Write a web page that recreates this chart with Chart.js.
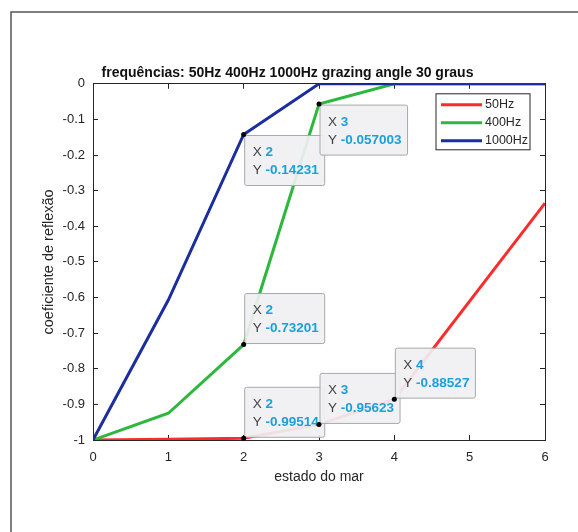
<!DOCTYPE html>
<html>
<head>
<meta charset="utf-8">
<script src="https://cdn.jsdelivr.net/npm/chart.js@4"></script>
<style>
  html, body { margin: 0; padding: 0; background: #fff; }
</style>
</head>
<body>
<canvas id="coefChart" width="578" height="532"></canvas>
<script>
// estado do mar on X, coeficiente de reflexão on Y
const seaStates = [0, 1, 2, 3, 4, 5, 6];
const coef50 = [-1, -0.998, -0.99514, -0.95623, -0.88527, -0.61, -0.335];
const coef400 = [-1, -0.925, -0.73201, -0.057003, 0, 0, 0];
const coef1000 = [-1, -0.607, -0.14231, 0, 0, 0, 0];
const seriesNames = ['50Hz', '400Hz', '1000Hz'];
const seriesColors = ['#ff2b2b', '#2bb83c', '#1c2d9e'];

const xTicks = [0, 1, 2, 3, 4, 5, 6];
const yTicks = [-1, -0.9, -0.8, -0.7, -0.6, -0.5, -0.4, -0.3, -0.2, -0.1, 0];

// data tips: dataset index, point index, box above the point?
const dataTips = [
    [2, 2, false],
    [1, 3, false],
    [1, 2, true],
    [0, 2, true],
    [0, 3, true],
    [0, 4, true]
];

const axisColor = '#262626';
const fontFamily = 'Liberation Sans, Arial, sans-serif';

function toPoints(values) {
    return values.map((v, i) => ({ x: seaStates[i], y: v }));
}

function useTicks(list) {
    return function (scale) {
        scale.ticks = list.map(v => ({ value: v }));
    };
}

function fmt(v) {
    return String(Math.round(v * 10) / 10);
}

// frame, data tips and legend box (MATLAB figure look)
const figureDecor = {
    id: 'figureDecor',
    beforeDraw(chart) {
        const ctx = chart.ctx;
        ctx.save();
        ctx.fillStyle = '#fff';
        ctx.fillRect(0, 0, chart.width, chart.height);
        ctx.strokeStyle = '#555';
        ctx.lineWidth = 1.5;
        ctx.beginPath();
        ctx.moveTo(11, chart.height);
        ctx.lineTo(11, 12);
        ctx.lineTo(chart.width, 12);
        ctx.stroke();
        ctx.restore();
    },
    afterDatasetsDraw(chart) {
        const ctx = chart.ctx;
        const xs = chart.scales.x, ys = chart.scales.y;
        const tipFont = '13.5px ' + fontFamily;
        const tipBold = 'bold 13.5px ' + fontFamily;
        ctx.save();
        dataTips.forEach(([ds, idx, above]) => {
            const xv = seaStates[idx];
            const yv = chart.data.datasets[ds].data[idx].y;
            const px = xs.getPixelForValue(xv);
            const py = ys.getPixelForValue(yv);
            const lines = [['X ', String(xv)], ['Y ', String(yv)]];
            let w = 0;
            lines.forEach(([a, b]) => {
                ctx.font = tipFont;
                let tw = ctx.measureText(a).width;
                ctx.font = tipBold;
                tw += ctx.measureText(b).width;
                w = Math.max(w, tw);
            });
            const bw = w + 14, bh = 50;
            const bx = px + 1;
            const by = above ? py - bh - 1 : py + 1;
            ctx.beginPath();
            ctx.roundRect(bx, by, bw, bh, 2);
            ctx.fillStyle = 'rgba(240,240,242,0.92)';
            ctx.fill();
            ctx.strokeStyle = '#a8a8a8';
            ctx.lineWidth = 1;
            ctx.stroke();
            ctx.textBaseline = 'middle';
            ctx.textAlign = 'left';
            lines.forEach(([a, b], i) => {
                const ty = by + 17 + i * 18;
                ctx.font = tipFont;
                ctx.fillStyle = '#404040';
                ctx.fillText(a, bx + 8, ty);
                const aw = ctx.measureText(a).width;
                ctx.font = tipBold;
                ctx.fillStyle = '#1aa0dc';
                ctx.fillText(b, bx + 8 + aw, ty);
            });
            ctx.beginPath();
            ctx.arc(px, py, 2.5, 0, Math.PI * 2);
            ctx.fillStyle = '#000';
            ctx.fill();
        });
        ctx.restore();
    },
    afterDraw(chart) {
        const ctx = chart.ctx;
        const area = chart.chartArea;
        const lw = 94, lh = 56;
        const lx = area.right - 15 - lw, ly = area.top + 10;
        ctx.save();
        ctx.fillStyle = '#fff';
        ctx.fillRect(lx, ly, lw, lh);
        ctx.strokeStyle = '#262626';
        ctx.lineWidth = 1;
        ctx.strokeRect(lx, ly, lw, lh);
        ctx.font = '12.5px ' + fontFamily;
        ctx.textBaseline = 'middle';
        seriesNames.forEach((name, i) => {
            const ry = ly + 11 + i * 18;
            ctx.strokeStyle = seriesColors[i];
            ctx.lineWidth = 3;
            ctx.beginPath();
            ctx.moveTo(lx + 5, ry);
            ctx.lineTo(lx + 46, ry);
            ctx.stroke();
            ctx.fillStyle = '#262626';
            ctx.fillText(name, lx + 49, ry);
        });
        ctx.restore();
    }
};

const allSeries = [coef50, coef400, coef1000];

const coefData = {
    datasets: allSeries.map((vals, i) => ({
        label: seriesNames[i],
        data: toPoints(vals),
        borderColor: seriesColors[i],
        backgroundColor: seriesColors[i],
        borderWidth: 3,
        pointRadius: 0,
        tension: 0,
        order: 3 - i
    }))
};

const innerGrid = {
    display: true,
    drawOnChartArea: false,
    drawTicks: true,
    tickLength: -5,
    color: axisColor,
    lineWidth: 1
};
const axisBorder = { display: true, color: axisColor, width: 1 };

const coefOptions = {
    responsive: false,
    animation: false,
    layout: { padding: { left: 30, right: 33, top: 65, bottom: 40 } },
    plugins: {
        legend: { display: false },
        tooltip: { enabled: false },
        title: {
            display: true,
            text: 'frequências: 50Hz 400Hz 1000Hz grazing angle 30 graus',
            color: '#111',
            font: { family: fontFamily, size: 14, weight: 'bold' },
            padding: { top: 0, bottom: 2 }
        }
    },
    scales: {
        x: {
            type: 'linear',
            min: 0, max: 6,
            afterBuildTicks: useTicks(xTicks),
            afterFit(s) { s.height = 52; },
            grid: innerGrid,
            border: axisBorder,
            ticks: { color: axisColor, padding: 15, font: { family: fontFamily, size: 13 }, callback: fmt },
            title: {
                display: true, text: 'estado do mar', color: axisColor,
                font: { family: fontFamily, size: 14 }, padding: { top: 0, bottom: 6 }
            }
        },
        y: {
            type: 'linear',
            min: -1, max: 0,
            afterBuildTicks: useTicks(yTicks),
            afterFit(s) { s.width = 63; },
            grid: innerGrid,
            border: axisBorder,
            ticks: { color: axisColor, padding: 13, font: { family: fontFamily, size: 13 }, callback: fmt },
            title: {
                display: true, text: 'coeficiente de reflexão', color: axisColor,
                font: { family: fontFamily, size: 14.5 }, padding: { top: 10, bottom: 0 }
            }
        },
        xTop: {
            type: 'linear', position: 'top',
            min: 0, max: 6,
            afterBuildTicks: useTicks(xTicks),
            afterFit(s) { s.height = 0; },
            grid: innerGrid,
            border: axisBorder,
            ticks: { display: false }
        },
        yRight: {
            type: 'linear', position: 'right',
            min: -1, max: 0,
            afterBuildTicks: useTicks(yTicks),
            afterFit(s) { s.width = 0; },
            grid: innerGrid,
            border: axisBorder,
            ticks: { display: false }
        }
    }
};

const ctx = document.getElementById('coefChart').getContext('2d');
const coefChart = new Chart(ctx, {
    type: 'line',
    data: coefData,
    options: coefOptions,
    plugins: [figureDecor]
});
</script>
</body>
</html>
